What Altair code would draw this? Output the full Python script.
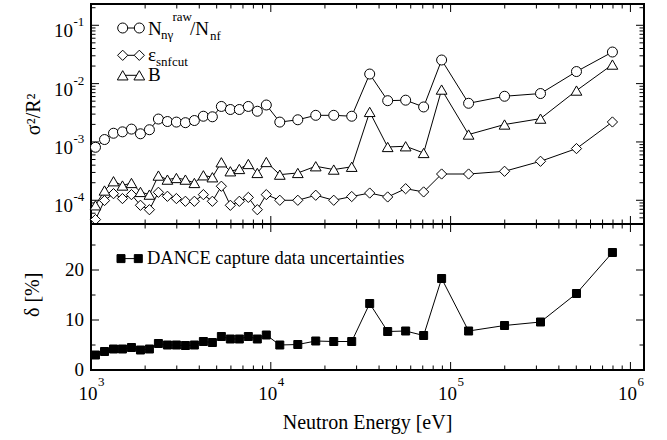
import altair as alt
import pandas as pd

# ---------------- data ----------------
energy_eV = [1059, 1189, 1334, 1496, 1679, 1884, 2113, 2371, 2661, 2985,
             3350, 3758, 4217, 4732, 5309, 5957, 6683, 7499, 8414, 9441,
             11220, 14130, 17780, 22390, 28180, 35480, 44670, 56230, 70790, 89130,
             125900, 199500, 316200, 501200, 794300]

ratio_raw = [8.1e-4, 1.10e-3, 1.41e-3, 1.49e-3, 1.66e-3, 1.38e-3, 1.62e-3, 2.47e-3, 2.24e-3, 2.19e-3,
             2.14e-3, 2.33e-3, 2.76e-3, 2.70e-3, 4.06e-3, 3.60e-3, 3.60e-3, 4.06e-3, 3.36e-3, 4.30e-3,
             2.19e-3, 2.40e-3, 2.86e-3, 2.86e-3, 2.76e-3, 1.46e-2, 5.1e-3, 5.2e-3, 3.98e-3, 2.54e-2,
             4.6e-3, 6.07e-3, 6.76e-3, 1.61e-2, 3.48e-2]

eps_snfcut = [4.67e-5, 9.9e-5, 1.30e-4, 1.07e-4, 1.25e-4, 8.2e-5, 6.9e-5, 1.37e-4, 1.17e-4, 1.07e-4,
              9.6e-5, 9.6e-5, 1.25e-4, 9.6e-5, 1.74e-4, 8.2e-5, 9.6e-5, 1.12e-4, 6.9e-5, 1.25e-4,
              1.0e-4, 1.0e-4, 1.22e-4, 1.0e-4, 1.16e-4, 1.33e-4, 1.14e-4, 1.58e-4, 1.39e-4, 2.82e-4,
              2.82e-4, 3.14e-4, 4.66e-4, 7.7e-4, 2.2e-3]

bkg_B = [8.2e-5, 1.47e-4, 2.12e-4, 1.79e-4, 1.98e-4, 1.39e-4, 1.25e-4, 2.65e-4, 2.26e-4, 2.41e-4,
         2.26e-4, 1.98e-4, 2.68e-4, 2.48e-4, 4.48e-4, 3.14e-4, 3.44e-4, 4.19e-4, 2.94e-4, 4.53e-4,
         2.75e-4, 2.94e-4, 3.83e-4, 3.36e-4, 3.75e-4, 3.27e-3, 8.2e-4, 8.43e-4, 6.47e-4, 7.9e-3,
         1.34e-3, 1.99e-3, 2.51e-3, 7.6e-3, 2.12e-2]

dance_unc = [3.0, 3.7, 4.2, 4.2, 4.5, 4.0, 4.2, 5.3, 5.0, 5.0,
             4.9, 5.0, 5.7, 5.5, 6.7, 6.2, 6.2, 6.7, 6.2, 7.0,
             5.0, 5.1, 5.8, 5.7, 5.7, 13.3, 7.7, 7.8, 6.9, 18.3,
             7.8, 8.9, 9.6, 15.3, 23.5]

# tick values / labels
x_major = [1e3, 1e4, 1e5, 1e6]
x_major_exp = ["3", "4", "5", "6"]
x_minor = [2e3, 3e3, 4e3, 5e3, 6e3, 7e3, 8e3, 9e3,
           2e4, 3e4, 4e4, 5e4, 6e4, 7e4, 8e4, 9e4,
           2e5, 3e5, 4e5, 5e5, 6e5, 7e5, 8e5, 9e5]
top_major = [1e-4, 1e-3, 1e-2, 1e-1]
top_major_exp = ["-4", "-3", "-2", "-1"]
top_minor = [4e-5, 5e-5, 6e-5, 7e-5, 8e-5, 9e-5,
             2e-4, 3e-4, 4e-4, 5e-4, 6e-4, 7e-4, 8e-4, 9e-4,
             2e-3, 3e-3, 4e-3, 5e-3, 6e-3, 7e-3, 8e-3, 9e-3,
             2e-2, 3e-2, 4e-2, 5e-2, 6e-2, 7e-2, 8e-2, 9e-2, 2e-1]
bot_major = [0, 10, 20]
bot_minor = [5, 15, 25]

# ---------------- layout / style ----------------
W, HT, HB = 553, 220, 146
FONT = "Liberation Serif"
MAJ, MIN = 8, 4.5

xscale = alt.Scale(type="log", domain=[1000, 1.19e6], nice=False)
ytop = alt.Scale(type="log", domain=[3.92e-5, 0.2317], nice=False)
ybot = alt.Scale(domain=[0, 29.2], nice=False, zero=False)

dummy = pd.DataFrame({"d": [0]})


def series(values, yscale, shape, size, fill):
    df = pd.DataFrame({"E": energy_eV, "v": values})
    base = alt.Chart(df).encode(
        x=alt.X("E:Q", scale=xscale, axis=None),
        y=alt.Y("v:Q", scale=yscale, axis=None),
        order=alt.Order("E:Q"),
    )
    line = base.mark_line(color="black", strokeWidth=1)
    pts = base.mark_point(shape=shape, size=size, filled=True, fill=fill,
                          stroke="black", strokeWidth=1, opacity=1)
    return [line, pts]


def x_ticks(vals, H, L):
    b = alt.Chart(pd.DataFrame({"v": vals})).encode(x=alt.X("v:Q", scale=xscale, axis=None))
    return [b.mark_rule(color="black", strokeWidth=1).encode(y=alt.value(H), y2=alt.value(H - L)),
            b.mark_rule(color="black", strokeWidth=1).encode(y=alt.value(0), y2=alt.value(L))]


def y_ticks(vals, yscale, L):
    b = alt.Chart(pd.DataFrame({"v": vals})).encode(y=alt.Y("v:Q", scale=yscale, axis=None))
    return [b.mark_rule(color="black", strokeWidth=1).encode(x=alt.value(0), x2=alt.value(L)),
            b.mark_rule(color="black", strokeWidth=1).encode(x=alt.value(W), x2=alt.value(W - L))]


def txt(s, x, y, size, align="left", baseline="alphabetic", angle=None):
    kw = dict(text=s, font=FONT, fontSize=size, align=align, baseline=baseline, color="black")
    if angle is not None:
        kw["angle"] = angle
    return alt.Chart(dummy).mark_text(**kw).encode(x=alt.value(x), y=alt.value(y))


def legend_symbol(x1, x2, y, shape, size, fill):
    out = [alt.Chart(dummy).mark_rule(color="black", strokeWidth=1).encode(
        x=alt.value(x1), x2=alt.value(x2), y=alt.value(y))]
    for xx in (x1, x2):
        out.append(alt.Chart(dummy).mark_point(shape=shape, size=size, filled=True, fill=fill,
                                               stroke="black", strokeWidth=1, opacity=1)
                   .encode(x=alt.value(xx), y=alt.value(y)))
    return out


# ---------------- top panel ----------------
top_layers = []
top_layers += x_ticks(x_major, HT, MAJ) + x_ticks(x_minor, HT, MIN)
top_layers += y_ticks(top_major, ytop, MAJ) + y_ticks(top_minor, ytop, MIN)
top_layers += series(ratio_raw, ytop, "circle", 100, "white")
top_layers += series(eps_snfcut, ytop, "diamond", 105, "white")
top_layers += series(bkg_B, ytop, "triangle-up", 115, "white")

# y tick labels (10 with exponent)
ylab = pd.DataFrame({"v": top_major, "e": top_major_exp, "t": ["10"] * 4})
ylb = alt.Chart(ylab).encode(y=alt.Y("v:Q", scale=ytop, axis=None))
top_layers.append(ylb.mark_text(font=FONT, fontSize=19, align="right", baseline="middle", dy=6,
                                color="black").encode(x=alt.value(-18), text="t:N"))
top_layers.append(ylb.mark_text(font=FONT, fontSize=13, align="left", baseline="middle", dy=-3,
                                color="black").encode(x=alt.value(-17.5), text="e:N"))
# y title
top_layers.append(txt("σ²/R²", -51.5, 110.3, 20, align="center", baseline="alphabetic", angle=270))

# legend
top_layers += legend_symbol(31.7, 48.3, 24, "circle", 100, "white")
top_layers += legend_symbol(31.7, 48.3, 51.3, "diamond", 105, "white")
top_layers += legend_symbol(31.7, 48.3, 71.3, "triangle-up", 115, "white")
top_layers += [
    txt("N", 57, 30.6, 19),
    txt("nγ", 70, 34.8, 13),
    txt("raw", 81.5, 17.3, 13),
    txt("/N", 99, 30.6, 19),
    txt("nf", 119, 35.5, 13),
    txt("ε", 57, 56.6, 19),
    txt("snfcut", 65, 62.3, 13),
    txt("B", 57, 77.3, 19),
]

top = alt.layer(*top_layers).properties(width=W, height=HT)

# ---------------- bottom panel ----------------
bot_layers = []
bot_layers += x_ticks(x_major, HB, MAJ) + x_ticks(x_minor, HB, MIN)
bot_layers += y_ticks(bot_major, ybot, MAJ) + y_ticks(bot_minor, ybot, MIN)
bot_layers += series(dance_unc, ybot, "square", 64, "black")

# y tick labels
blab = pd.DataFrame({"v": bot_major, "t": [str(v) for v in bot_major]})
bot_layers.append(alt.Chart(blab).mark_text(font=FONT, fontSize=19, align="right", baseline="middle",
                                            color="black")
                  .encode(y=alt.Y("v:Q", scale=ybot, axis=None), x=alt.value(-7), text="t:N"))
# x tick labels
xlab = pd.DataFrame({"v": x_major, "e": x_major_exp, "t": ["10"] * 4})
xlb = alt.Chart(xlab).encode(x=alt.X("v:Q", scale=xscale, axis=None))
bot_layers.append(xlb.mark_text(font=FONT, fontSize=19, align="center", baseline="middle", dx=-3,
                                color="black").encode(y=alt.value(HB + 24), text="t:N"))
bot_layers.append(xlb.mark_text(font=FONT, fontSize=13, align="left", baseline="middle", dx=7,
                                color="black").encode(y=alt.value(HB + 12), text="e:N"))
# titles
bot_layers.append(txt("δ [%]", -52, 70.8, 20, align="center", baseline="alphabetic", angle=270))
bot_layers.append(txt("Neutron Energy [eV]", W / 2, HB + 58.7, 20, align="center"))

# legend
bot_layers += legend_symbol(30, 47.3, 34.6, "square", 64, "black")
bot_layers.append(txt("DANCE capture data uncertainties", 56, 40.2, 18.5))

bottom = alt.layer(*bot_layers).properties(width=W, height=HB)

chart = (
    alt.vconcat(top, bottom, spacing=0, bounds="flush")
    .properties(padding={"left": 22, "top": 2, "right": 5, "bottom": 2}, background="white")
    .configure_view(stroke="black", strokeWidth=2)
    .configure_text(font=FONT)
)

chart.save("out.html", embed_options={"renderer": "svg", "actions": False})
